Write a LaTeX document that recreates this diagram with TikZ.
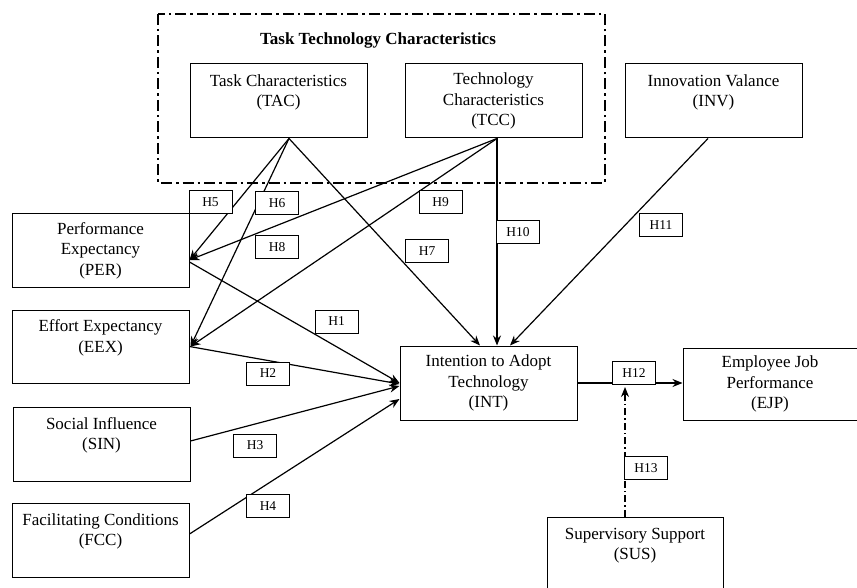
\documentclass[tikz,border=0pt]{standalone}
\usepackage{fontspec}
\setmainfont{Liberation Serif}
\usetikzlibrary{arrows.meta}
\tikzset{
  cbox/.style={draw,line width=1pt,minimum width=177pt,minimum height=74pt,inner sep=0pt,align=center,font=\fontsize{17}{20.5}\selectfont},
  hbox/.style={draw,fill=white,line width=1pt,minimum width=43pt,minimum height=23pt,inner sep=0pt,font=\fontsize{13.5}{15}\selectfont},
  link/.style={-{Stealth[length=10pt,width=8pt]},line width=1.2pt},
}

\begin{document}
\begin{tikzpicture}[x=1pt,y=-1pt]
\clip (0,0) rectangle (857,588);
\fill[white] (0,0) rectangle (857,588);
% task technology frame
\draw[line width=2.4pt,dash pattern=on 11pt off 4pt on 2.5pt off 4pt] (158,14) rectangle (605,183);
\node[font=\bfseries\fontsize{17}{20.5}\selectfont] (ttc) at (378,40) {Task Technology Characteristics};
% constructs
\node[cbox] (tac) at (278.5,101) {Task Characteristics\\(TAC)\\\mbox{}};
\node[cbox] (tcc) at (493.5,101) {Technology\\Characteristics\\(TCC)};
\node[cbox] (inv) at (713.5,101) {Innovation Valance\\(INV)\\\mbox{}};
\node[cbox,minimum height=73pt] (per) at (100.5,250.5) {Performance\\Expectancy\\(PER)};
\node[cbox,minimum height=73pt] (eex) at (100.5,346.5) {Effort Expectancy\\(EEX)\\\mbox{}};
\node[cbox] (sin) at (101.5,444) {Social Influence\\(SIN)\\\mbox{}};
\node[cbox] (fcc) at (100.5,540) {Facilitating Conditions\\(FCC)\\\mbox{}};
\node[cbox] (int) at (488.5,383) {Intention to Adopt\\Technology\\(INT)};
\node[cbox,minimum width=174pt,minimum height=72pt] (ejp) at (770,384) {Employee Job\\Performance\\(EJP)};
\node[cbox,minimum width=176pt] (sus) at (635,554) {Supervisory Support\\(SUS)\\\mbox{}};
% paths
\draw[link] ([xshift=10.5pt]tac.south) -- ([yshift=-9.5pt]per.east);
\draw[link] ([xshift=10.5pt]tac.south) -- ([xshift=1pt]eex.east);
\draw[link] ([xshift=10.5pt]tac.south) -- ([xshift=-8.5pt]int.north);
\draw[link] ([xshift=3.5pt]tcc.south) -- ([yshift=-9.5pt]per.east);
\draw[link] ([xshift=3.5pt]tcc.south) -- ([xshift=1pt]eex.east);
\draw[link] ([xshift=3.5pt]tcc.south) -- ([xshift=8.5pt]int.north);
\draw[link] ([xshift=-5.5pt]inv.south) -- ([xshift=21.5pt]int.north);
\draw[link] ([yshift=-11.5pt]per.east) -- (int.west);
\draw[link] (eex.east) -- ([yshift=-1pt]int.west);
\draw[link] ([yshift=3pt]sin.east) -- ([yshift=-3pt]int.west);
\draw[link] ([yshift=6pt]fcc.east) -- ([yshift=-16pt]int.west);
\draw[link] (int.east) -- (int.east -| ejp.west);
% moderation
\coordinate (modpt) at ([xshift=-10pt]sus.north);
\coordinate (modtop) at (modpt |- int.east);
\draw[link,dash pattern=on 7pt off 3pt on 1.5pt off 3pt] (modpt) -- ([yshift=-4pt]modtop);
% hypotheses
\node[hbox] (h1) at (336.5,321.5) {H1};
\node[hbox] (h2) at (268,373.5) {H2};
\node[hbox] (h3) at (255,445.5) {H3};
\node[hbox] (h4) at (268,506) {H4};
\node[hbox] (h5) at (210.5,202.5) {H5};
\node[hbox] (h6) at (277,203) {H6};
\node[hbox] (h7) at (427,251.5) {H7};
\node[hbox] (h8) at (277,247.5) {H8};
\node[hbox] (h9) at (440.5,202.5) {H9};
\node[hbox] (h10) at (518,232.5) {H10};
\node[hbox] (h11) at (661,225) {H11};
\node[hbox] (h12) at (634,373) {H12};
\node[hbox] (h13) at (646,468) {H13};
\end{tikzpicture}
\end{document}
